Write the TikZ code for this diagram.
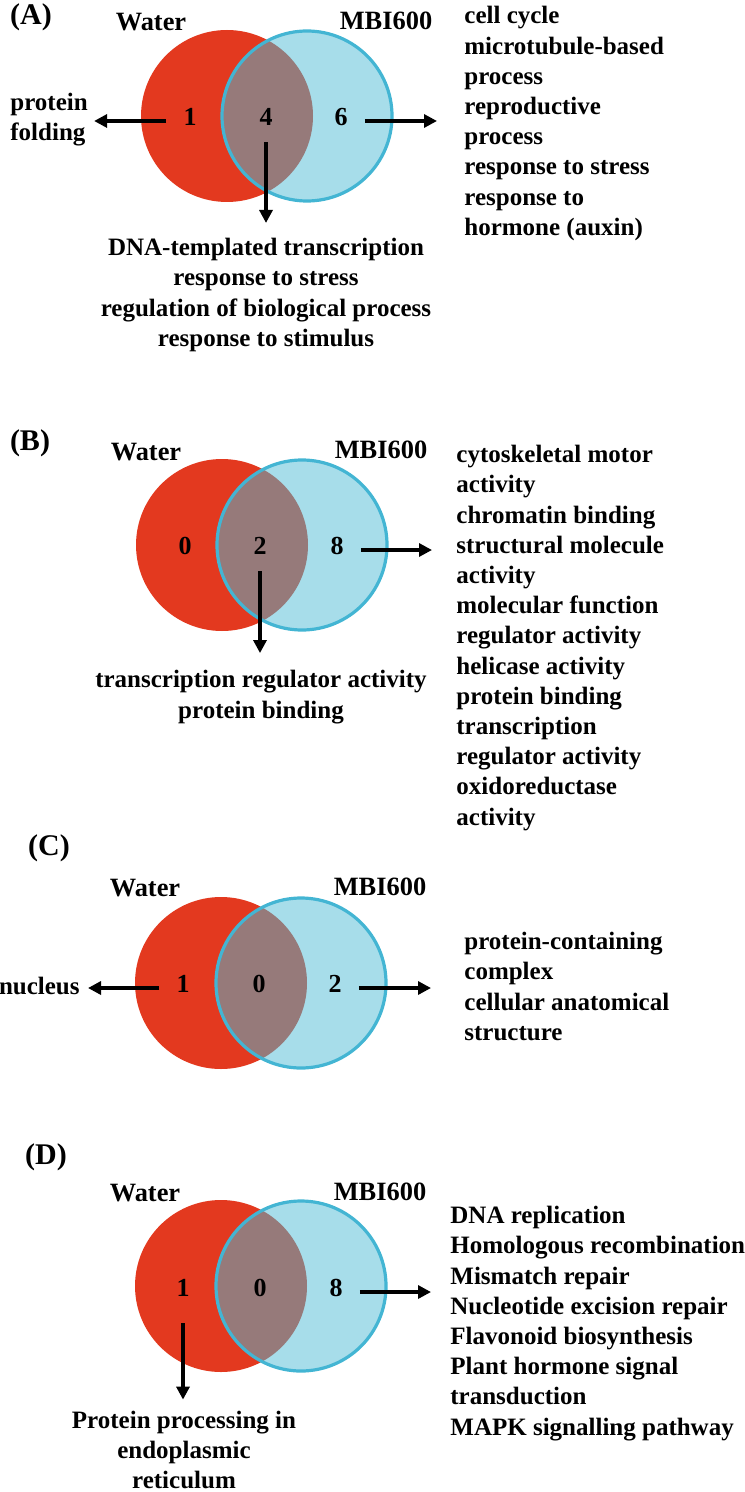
\documentclass[tikz,border=0pt]{standalone}
\usepackage{fontspec}
\setmainfont{Liberation Serif}
\usetikzlibrary{arrows.meta}

\definecolor{waterred}{HTML}{E3391F}
\definecolor{mbifill}{HTML}{A7DDEA}
\definecolor{mbiline}{HTML}{43B5D3}
\definecolor{overlap}{HTML}{967A7A}

\begin{document}
\begin{tikzpicture}[x=0.5pt, y=-0.5pt,
    txt/.style={font=\fontsize{12.5}{15.1}\selectfont\bfseries, inner sep=0pt},
    lst/.style={txt, align=left, anchor=west},
    ctr/.style={txt, align=center},
    setname/.style={font=\fontsize{13.2}{15}\selectfont\bfseries, inner sep=0pt},
    num/.style={font=\fontsize{13}{15}\selectfont\bfseries, inner sep=0pt,
        text height=8.8pt, text depth=4pt},
    panel/.style={font=\fontsize{15}{18}\selectfont\bfseries, inner sep=0pt},
    arr/.style={-{Triangle[length=6.5pt,width=6.5pt]}, line width=1.6pt}]
    \useasboundingbox (0,0) rectangle (744,1492);

    % Circulos de Venn (Water / MBI600)
    \foreach \cx/\cy in {227/116, 222/545, 221/983, 221/1286} {
        \fill[waterred] (\cx,\cy) circle[radius=86];
        \fill[mbifill] (\cx+80,\cy) circle[radius=85];
        \begin{scope}
            \clip (\cx,\cy) circle[radius=86];
            \fill[overlap] (\cx+80,\cy) circle[radius=85];
        \end{scope}
        \draw[draw=mbiline, line width=1.6pt] (\cx+80,\cy) circle[radius=85];
    }

    % Panel (A)
    \node[panel] (pA) at (31,17) {(A)};
    \node[setname] (wA) at (151,22) {Water};
    \node[setname] (mA) at (386,21) {MBI600};
    \node[num] (nA1) at (190,121) {1};
    \node[num] (nA4) at (266,121) {4};
    \node[num] (nA6) at (341,121) {6};
    \node[lst] (leftA) at (10,119.5) {protein\\folding};
    \node[lst] (rightA) at (464,123.5) {cell cycle\\microtubule-based\\process\\reproductive\\process\\response to stress\\response to\\hormone (auxin)};
    \node[ctr] (botA) at (266,295) {DNA-templated transcription\\response to stress\\regulation of biological process\\response to stimulus};
    \draw[arr, shorten <=8.5pt, shorten >=3pt] (nA1.west) -- (nA1.west -| leftA.east);
    \draw[arr, shorten <=8.5pt, shorten >=13.5pt] (nA6.east) -- (nA6.east -| rightA.west);
    \draw[arr, shorten <=4pt, shorten >=7.5pt] (nA4.south) -- (nA4.south |- botA.north);

    % Panel (B)
    \node[panel] (pB) at (30,443) {(B)};
    \node[setname] (wB) at (146,452) {Water};
    \node[setname] (mB) at (381,450) {MBI600};
    \node[num] (nB0) at (185,550) {0};
    \node[num] (nB2) at (260,550) {2};
    \node[num] (nB8) at (337,550) {8};
    \node[lst] (rightB) at (456,638) {cytoskeletal motor\\activity\\chromatin binding\\structural molecule\\activity\\molecular function\\regulator activity\\helicase activity\\protein binding\\transcription\\regulator activity\\oxidoreductase\\activity};
    \node[ctr] (botB) at (261,697) {transcription regulator activity\\protein binding};
    \draw[arr, shorten <=8.5pt, shorten >=12pt] (nB8.east) -- (nB8.east -| rightB.west);
    \draw[arr, shorten <=4pt, shorten >=8.5pt] (nB2.south) -- (nB2.south |- botB.north);

    % Panel (C)
    \node[panel] (pC) at (49,848) {(C)};
    \node[setname] (wC) at (145,888) {Water};
    \node[setname] (mC) at (380,887) {MBI600};
    \node[num] (nC1) at (183,988) {1};
    \node[num] (nC0) at (259,988) {0};
    \node[num] (nC2) at (335,988) {2};
    \node[txt, anchor=east] (leftC) at (80,986) {nucleus};
    \node[lst] (rightC) at (464,986.5) {protein-containing\\complex\\cellular anatomical\\structure};
    \draw[arr, shorten <=8.5pt, shorten >=4pt] (nC1.west) -- (nC1.west -| leftC.east);
    \draw[arr, shorten <=8.5pt, shorten >=16.5pt] (nC2.east) -- (nC2.east -| rightC.west);

    % Panel (D)
    \node[panel] (pD) at (46,1157) {(D)};
    \node[setname] (wD) at (145,1193) {Water};
    \node[setname] (mD) at (380,1192) {MBI600};
    \node[num] (nD1) at (183,1292) {1};
    \node[num] (nD0) at (260,1292) {0};
    \node[num] (nD8) at (336,1292) {8};
    \node[lst] (rightD) at (450,1323.5) {DNA replication\\Homologous recombination\\Mismatch repair\\Nucleotide excision repair\\Flavonoid biosynthesis\\Plant hormone signal\\transduction\\MAPK signalling pathway};
    \node[ctr] (botD) at (184,1450) {Protein processing in\\endoplasmic\\reticulum};
    \draw[arr, shorten <=8.5pt, shorten >=9.5pt] (nD8.east) -- (nD8.east -| rightD.west);
    \draw[arr, shorten <=9pt, shorten >=5.5pt] (nD1.south) -- (nD1.south |- botD.north);
\end{tikzpicture}
\end{document}
